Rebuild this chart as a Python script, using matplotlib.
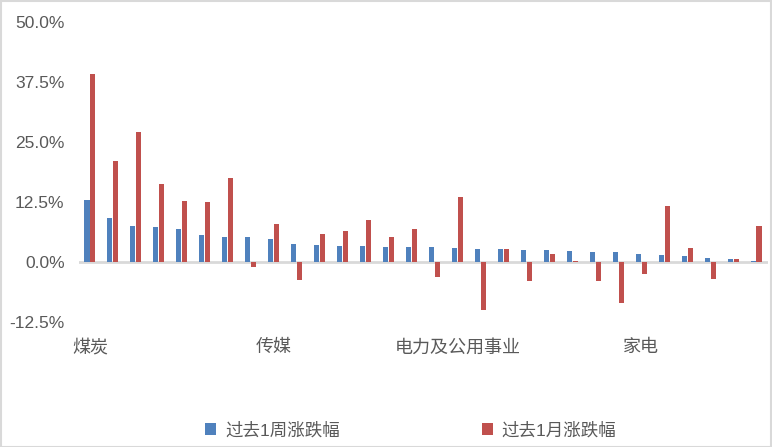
import matplotlib
matplotlib.use("Agg")
import matplotlib.pyplot as plt
from matplotlib.patches import Rectangle
from matplotlib.ticker import FuncFormatter, FixedLocator
import numpy as np

plt.rcParams['font.family'] = ['Liberation Sans', 'Noto Sans CJK SC', 'DejaVu Sans']

# Category names (only every 8th label is visible in the reference)
categories = ['煤炭', '', '', '', '', '', '', '', '传媒', '', '', '', '', '', '', '',
              '电力及公用事业', '', '', '', '', '', '', '', '家电', '', '', '', '', '']
week_change = [13.0, 9.2, 7.6, 7.35, 6.9, 5.7, 5.3, 5.3, 4.85, 3.8,
               3.6, 3.4, 3.4, 3.2, 3.2, 3.2, 3.0, 2.8, 2.8, 2.6,
               2.6, 2.35, 2.15, 2.15, 1.7, 1.5, 1.3, 0.9, 0.7, 0.3]
month_change = [39.2, 21.1, 27.1, 16.3, 12.8, 12.5, 17.4, -1.0, 8.0, -3.7,
                5.9, 6.5, 8.8, 5.3, 6.9, -3.1, 13.6, -9.9, 2.8, -4.0,
                1.7, 0.3, -4.0, -8.5, -2.6, 11.7, 3.0, -3.5, 0.7, 7.6]
series_names = ['过去1周涨跌幅', '过去1月涨跌幅']
y_ticks = [-12.5, 0.0, 12.5, 25.0, 37.5, 50.0]

W, H = 772, 447
fig = plt.figure(figsize=(W / 100, H / 100), dpi=100)
left, right, top, bottom = 78.5, 767.5, 22, 322
ax = fig.add_axes([left / W, 1 - bottom / H, (right - left) / W, (bottom - top) / H])

x = np.arange(len(categories))
bw = 0.22
off = 0.13
blue = '#4F81BD'
red = '#C0504D'
ax.bar(x - off, week_change, width=bw, color=blue, label=series_names[0], zorder=3)
ax.bar(x + off, month_change, width=bw, color=red, label=series_names[1], zorder=3)

ax.set_xlim(-0.5, len(categories) - 0.5)
ax.set_ylim(-12.5, 50)
ax.axhline(0, color='#D9D9D9', lw=2, zorder=2)

for s in ax.spines.values():
    s.set_visible(False)

ax.yaxis.set_major_locator(FixedLocator(y_ticks))
ax.yaxis.set_major_formatter(FuncFormatter(lambda v, p: f'{v:.1f}%'))
ax.tick_params(axis='y', length=0, labelsize=12.5, labelcolor='#595959', pad=10)

ax.set_xticks([])
for i, name in enumerate(categories):
    if name:
        ax.text(i, -15.9, name, ha='center', va='top', fontsize=13, color='#595959',
                family=['Noto Sans CJK SC', 'DejaVu Sans'])

leg = fig.legend(loc='center', bbox_to_anchor=(0.532, 1 - 430 / H), ncol=2, frameon=False,
                 prop={'family': ['Liberation Sans', 'Noto Sans CJK SC'], 'size': 12.6},
                 handlelength=0.65, handleheight=0.65, handletextpad=0.5, columnspacing=8.1,
                 labelcolor='#595959')

fig.patches.append(Rectangle((0.5 / W, 0.5 / H), 1 - 1.5 / W, 1 - 1.5 / H, transform=fig.transFigure,
                             fill=False, edgecolor='#D9D9D9', lw=1.5))

fig.savefig('out.png', dpi=100)
